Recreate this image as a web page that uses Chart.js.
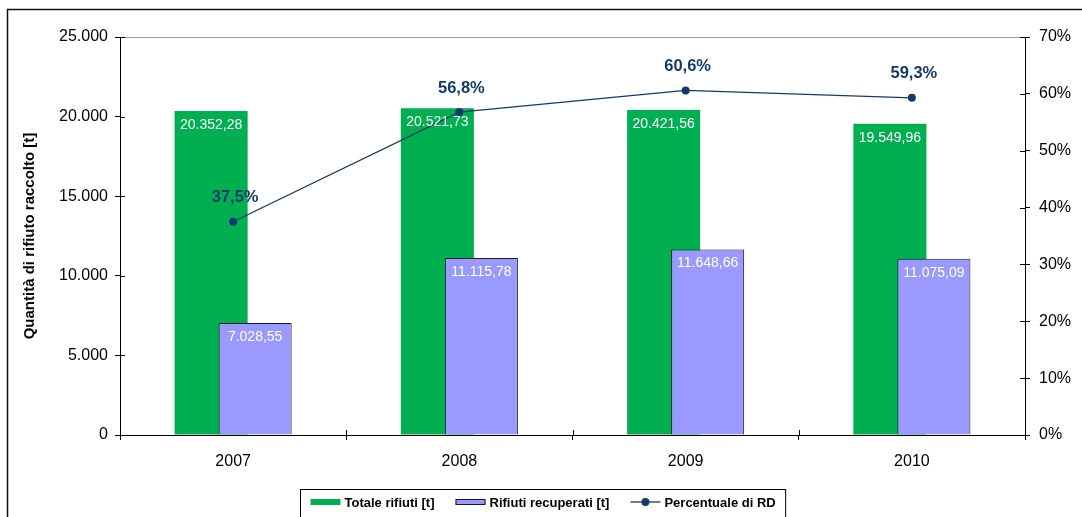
<!DOCTYPE html>
<html>
<head>
<meta charset="utf-8">
<script src="https://cdn.jsdelivr.net/npm/chart.js@4.4.0/dist/chart.umd.min.js"></script>
<style>
  body { margin: 0; background: #fff; }
  #wrap { width: 1082px; height: 517px; }
</style>
</head>
<body>
<div id="wrap"><canvas id="chart" width="1082" height="517"></canvas></div>
<script>
const years = ["2007", "2008", "2009", "2010"];
const totale = [20352.28, 20521.73, 20421.56, 19549.96];
const recuperati = [7028.55, 11115.78, 11648.66, 11075.09];
const percentuale = [37.5, 56.8, 60.6, 59.3];

const FONT = "'Liberation Sans', Arial, sans-serif";
const NAVY = "#123a6b";

// italian style numbers: 20.352,28
const fmt = (v, dec) => {
  const [i, d] = v.toFixed(dec).split(".");
  const int = i.replace(/\B(?=(\d{3})+(?!\d))/g, ".");
  return d ? int + "," + d : int;
};

const frame = {
  id: "frame",
  beforeDraw(chart) {
    const ctx = chart.ctx;
    ctx.save();
    ctx.fillStyle = "#fff";
    ctx.fillRect(0, 0, chart.width, chart.height);
    ctx.strokeStyle = "#111";
    ctx.lineWidth = 1.5;
    ctx.strokeRect(7.5, 9.5, chart.width + 20, chart.height + 20);
    ctx.restore();
  },
};

// bars first, then the line on top of them
const drawOrder = {
  id: "drawOrder",
  beforeDatasetsDraw(chart) {
    const metas = chart.getSortedVisibleDatasetMetas().slice();
    metas.sort((a, b) => a.index - b.index);
    metas.forEach((meta) => meta.controller.draw());
    return false;
  },
};

const crossTicks = {
  id: "crossTicks",
  afterDraw(chart) {
    const { ctx, chartArea: a, scales } = chart;
    ctx.save();
    ctx.strokeStyle = "#000";
    ctx.lineWidth = 1;
    ctx.beginPath();
    scales.y.ticks.forEach((t) => {
      const py = Math.round(scales.y.getPixelForValue(t.value)) + 0.5;
      ctx.moveTo(a.left, py);
      ctx.lineTo(a.left + 5, py);
    });
    scales.y1.ticks.forEach((t) => {
      const py = Math.round(scales.y1.getPixelForValue(t.value)) + 0.5;
      ctx.moveTo(a.right - 5, py);
      ctx.lineTo(a.right, py);
    });
    const n = years.length;
    for (let i = 0; i <= n; i++) {
      const px = Math.round(a.left + (i * (a.right - a.left)) / n) + 0.5;
      ctx.moveTo(px, a.bottom - 5);
      ctx.lineTo(px, a.bottom);
    }
    ctx.stroke();
    ctx.restore();
  },
};

const valueLabels = {
  id: "valueLabels",
  afterDraw(chart) {
    const ctx = chart.ctx;
    ctx.save();
    ctx.textAlign = "center";
    ctx.textBaseline = "middle";
    [0, 1].forEach((di) => {
      const ds = chart.data.datasets[di];
      ctx.font = "14px " + FONT;
      ctx.fillStyle = "#fff";
      chart.getDatasetMeta(di).data.forEach((bar, i) => {
        ctx.fillText(fmt(ds.data[i], 2), bar.x, bar.y + 14);
      });
    });
    const line = chart.data.datasets[2];
    ctx.font = "bold 16.5px " + FONT;
    ctx.fillStyle = NAVY;
    chart.getDatasetMeta(2).data.forEach((pt, i) => {
      ctx.fillText(line.data[i].toFixed(1).replace(".", ",") + "%", pt.x + 2, pt.y - 24);
    });
    ctx.restore();
  },
};

const legendBox = {
  id: "legendBox",
  afterDraw(chart) {
    const ctx = chart.ctx;
    const sym = 30, gapSym = 4, gapItem = 21, pad = 10;
    ctx.save();
    ctx.font = "bold 13px " + FONT;
    const items = chart.data.datasets.map((ds) => ({ ds, w: ctx.measureText(ds.label).width }));
    const total = items.reduce((s, it) => s + sym + gapSym + it.w, 0) + gapItem * (items.length - 1) + pad * 2;
    const left = Math.round(543 - total / 2) + 0.5;
    const top = 489.5, height = 28, cy = 502;
    ctx.strokeStyle = "#000";
    ctx.lineWidth = 1;
    ctx.strokeRect(left, top, total, height);
    let x = left + pad;
    ctx.textBaseline = "middle";
    ctx.textAlign = "left";
    items.forEach(({ ds, w }) => {
      if (ds.type === "line") {
        ctx.strokeStyle = ds.borderColor;
        ctx.lineWidth = 1.3;
        ctx.beginPath();
        ctx.moveTo(x, cy);
        ctx.lineTo(x + sym, cy);
        ctx.stroke();
        ctx.fillStyle = ds.pointBackgroundColor;
        ctx.beginPath();
        ctx.arc(x + sym / 2, cy, 4, 0, Math.PI * 2);
        ctx.fill();
      } else {
        ctx.fillStyle = ds.backgroundColor;
        ctx.fillRect(x, cy - 3, sym, 6);
        if (ds.borderWidth) {
          ctx.strokeStyle = ds.borderColor;
          ctx.lineWidth = 1;
          ctx.strokeRect(x + 0.5, cy - 2.5, sym - 1, 5);
        }
      }
      ctx.fillStyle = "#000";
      ctx.fillText(ds.label, x + sym + gapSym, cy + 1);
      x += sym + gapSym + w + gapItem;
    });
    ctx.restore();
  },
};

const tickFont = { family: FONT, size: 16 };

new Chart(document.getElementById("chart"), {
  type: "bar",
  data: {
    labels: years,
    datasets: [
      {
        label: "Totale rifiuti [t]",
        data: totale,
        backgroundColor: "#00b050",
        borderWidth: 0,
        categoryPercentage: 0.389,
        barPercentage: 1.66,
        yAxisID: "y",
      },
      {
        label: "Rifiuti recuperati [t]",
        data: recuperati,
        backgroundColor: "#9999ff",
        borderColor: "#1a1a1a",
        borderWidth: 1,
        categoryPercentage: 0.389,
        barPercentage: 1.66,
        yAxisID: "y",
      },
      {
        type: "line",
        label: "Percentuale di RD",
        data: percentuale,
        borderColor: NAVY,
        borderWidth: 1.3,
        pointRadius: 4,
        pointBackgroundColor: NAVY,
        pointBorderWidth: 0,
        tension: 0,
        yAxisID: "y1",
      },
    ],
  },
  options: {
    responsive: false,
    animation: false,
    layout: { padding: { top: 37, left: 0, right: 0, bottom: 0 } },
    plugins: { legend: { display: false }, tooltip: { enabled: false } },
    scales: {
      x: {
        grid: { drawOnChartArea: false, tickColor: "#000", tickLength: 5 },
        border: { color: "#000" },
        ticks: { color: "#000", font: tickFont, padding: 12 },
        afterFit: (s) => { s.height = 82; },
      },
      y: {
        position: "left",
        min: 0,
        max: 25000,
        ticks: { stepSize: 5000, callback: (v) => fmt(v, 0), color: "#000", font: tickFont, padding: 7 },
        grid: {
          color: (c) => (c.tick && c.tick.value === 25000 ? "#999" : "rgba(0,0,0,0)"),
          tickColor: "#000",
          tickLength: 5,
        },
        border: { color: "#000" },
        title: {
          display: true,
          text: "Quantità di rifiuto raccolto [t]",
          color: "#000",
          font: { family: FONT, size: 15, weight: "bold" },
          padding: { top: 21, bottom: 0 },
        },
        afterFit: (s) => { s.width = 120; },
      },
      y1: {
        position: "right",
        min: 0,
        max: 70,
        ticks: { stepSize: 10, callback: (v) => v + "%", color: "#000", font: tickFont, padding: 9 },
        grid: { drawOnChartArea: false, tickColor: "#000", tickLength: 5 },
        border: { color: "#000" },
        afterFit: (s) => { s.width = 57; },
      },
    },
  },
  plugins: [frame, drawOrder, crossTicks, valueLabels, legendBox],
});
</script>
</body>
</html>
